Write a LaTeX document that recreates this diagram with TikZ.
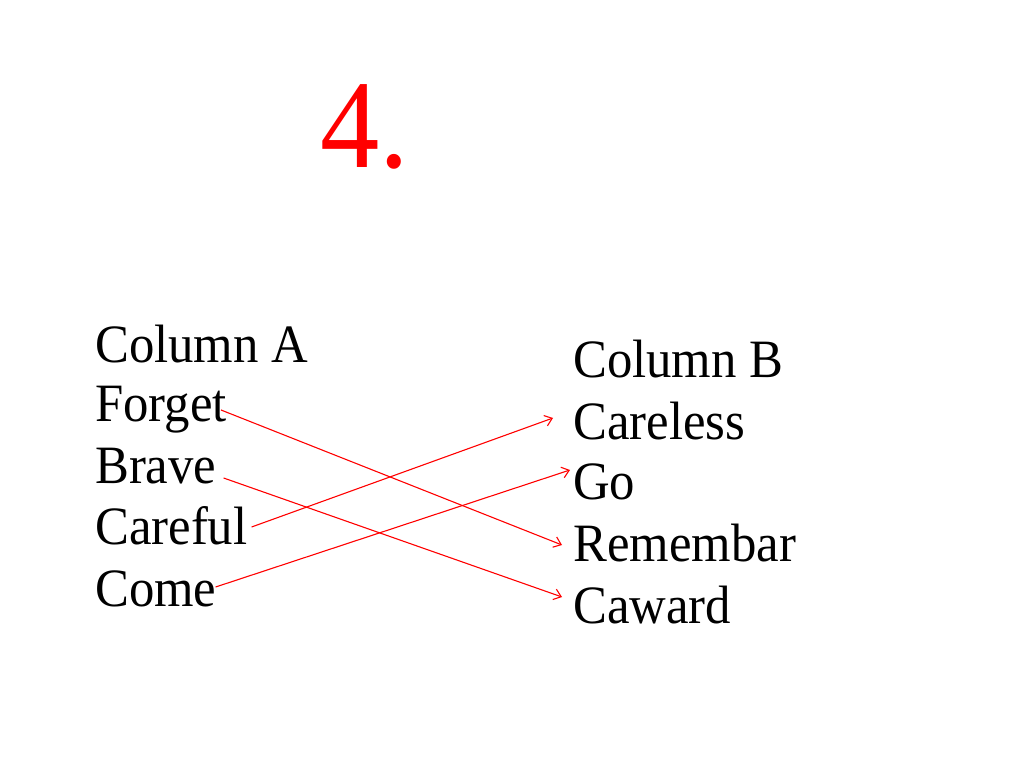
\documentclass[tikz,border=0pt]{standalone}
\usepackage{fontspec}
\setmainfont{Liberation Serif}[FakeStretch=0.94]
\usetikzlibrary{arrows.meta}
\tikzset{
  word/.style={anchor=base west, inner sep=0pt, font=\fontsize{54}{54}\selectfont},
  link/.style={draw=red, line width=1.1pt, -{Straight Barb[length=7pt,width=11pt,line width=1.1pt]}}
}
\begin{document}
\begin{tikzpicture}[x=1pt,y=1pt]
\useasboundingbox[fill=white] (0,0) rectangle (1024,768);
\node[anchor=base west, inner sep=0pt, text=red, font=\fontsize{126}{126}\selectfont] (num) at (320,600) {4.};
% Column A
\node[word] (ca) at (95,405) {Column A};
\node[word] (forget) at (95,346) {Forget};
\node[word] (brave) at (95,284) {Brave};
\node[word] (careful) at (95,223) {Careful};
\node[word] (come) at (95,161) {Come};
% Column B
\node[word] (cb) at (573,390) {Column B};
\node[word] (careless) at (573,328) {Careless};
\node[word] (go) at (573,268) {Go};
\node[word] (remembar) at (573,206) {Remembar};
\node[word] (caward) at (573,145) {Caward};
% links
\draw[link] ([shift={(-6,12)}]forget.base east) -- ([shift={(-11,17)}]remembar.base west);
\draw[link] ([shift={(7,6)}]brave.base east) -- ([shift={(-11,26)}]caward.base west);
\draw[link] ([shift={(4,18)}]careful.base east) -- ([shift={(-20,22)}]careless.base west);
\draw[link] ([shift={(-1,20)}]come.base east) -- ([shift={(-3,30)}]go.base west);
\end{tikzpicture}
\end{document}
